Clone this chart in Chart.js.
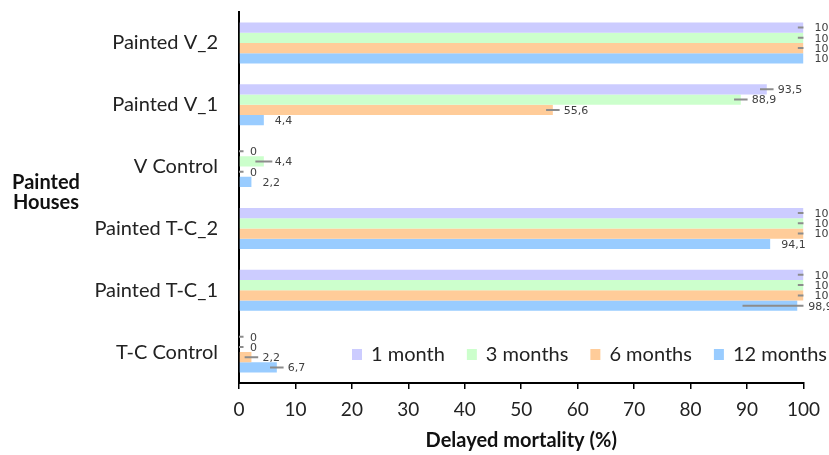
<!DOCTYPE html>
<html>
<head>
<meta charset="utf-8">
<script src="https://cdn.jsdelivr.net/npm/chart.js@4.4.1/dist/chart.umd.min.js"></script>
<style>
html,body{margin:0;padding:0;background:#fff;}
#wrap{width:829px;height:455px;position:relative;}
</style>
</head>
<body>
<div id="wrap"><canvas id="c" width="829" height="455"></canvas></div>
<script>
// ---- data ----
const categories = ["Painted V_2", "Painted V_1", "V Control", "Painted T-C_2", "Painted T-C_1", "T-C Control"];
const seriesNames = ["1 month", "3 months", "6 months", "12 months"];
const month1  = [100, 93.5, 0,   100, 100, 0];
const month3  = [100, 88.9, 4.4, 100, 100, 0];
const month6  = [100, 55.6, 0,   100, 100, 2.2];
const month12 = [100, 4.4,  2.2, 94.1, 98.9, 6.7];
const err1  = [1, 1.2, 0.8, 1, 1, 0.8];
const err3  = [1, 1.2, 1.5, 1, 1, 0.8];
const err6  = [1, 1.2, 0.8, 1, 1, 1.2];
const err12 = [0, 0,   0,   0, 9.7, 1.2];
const xTicks = [0, 10, 20, 30, 40, 50, 60, 70, 80, 90, 100];
const colors = ["#ccccff", "#ccffcc", "#ffcc99", "#99ccff"];

const values = [month1, month3, month6, month12];
const errors = [err1, err3, err6, err12];

const FONT = "Lato, 'Open Sans', sans-serif";

const overlay = {
  id: 'overlay',
  afterDatasetsDraw(chart) {
    const ctx = chart.ctx;
    const xs = chart.scales.x;
    const area = chart.chartArea;
    // error whiskers
    ctx.save();
    ctx.beginPath();
    ctx.rect(area.left, area.top - 2, area.right - area.left, area.bottom - area.top + 4);
    ctx.clip();
    ctx.strokeStyle = '#8c8c8c';
    ctx.lineWidth = 2;
    chart.data.datasets.forEach((ds, di) => {
      const meta = chart.getDatasetMeta(di);
      meta.data.forEach((el, i) => {
        const e = errors[di][i];
        if (!e) return;
        const v = ds.data[i];
        const x1 = xs.getPixelForValue(v - e);
        const x2 = xs.getPixelForValue(v + e);
        ctx.beginPath();
        ctx.moveTo(x1, el.y);
        ctx.lineTo(x2, el.y);
        ctx.stroke();
      });
    });
    ctx.restore();
    // value labels
    ctx.save();
    ctx.font = "11px 'DejaVu Sans', Verdana, sans-serif";
    ctx.fillStyle = '#404040';
    ctx.textAlign = 'left';
    ctx.textBaseline = 'middle';
    chart.data.datasets.forEach((ds, di) => {
      const meta = chart.getDatasetMeta(di);
      meta.data.forEach((el, i) => {
        const v = ds.data[i];
        const x = xs.getPixelForValue(v) + 11;
        ctx.fillText(String(v).replace('.', ','), x, el.y + 1);
      });
    });
    ctx.restore();
  },
  afterDraw(chart) {
    const ctx = chart.ctx;
    // y-axis group title
    ctx.save();
    ctx.font = "bold 20px " + FONT;
    ctx.fillStyle = '#111';
    ctx.textAlign = 'center';
    ctx.textBaseline = 'middle';
    ctx.fillText('Painted', 46, 183);
    ctx.fillText('Houses', 46, 203);
    ctx.restore();
    // legend inside plot
    ctx.save();
    ctx.font = "20px " + FONT;
    ctx.textBaseline = 'middle';
    ctx.textAlign = 'left';
    let x = 352;
    const y = 355;
    chart.data.datasets.forEach((ds) => {
      ctx.fillStyle = ds.backgroundColor;
      ctx.fillRect(x, y - 6, 10, 11);
      x += 19;
      ctx.fillStyle = '#222';
      ctx.fillText(ds.label, x, y);
      x += ctx.measureText(ds.label).width + 22;
    });
    ctx.restore();
  }
};

new Chart(document.getElementById('c'), {
  type: 'bar',
  data: {
    labels: categories,
    datasets: seriesNames.map((n, i) => ({
      label: n,
      data: values[i],
      backgroundColor: colors[i],
      borderWidth: 0,
      categoryPercentage: 0.664,
      barPercentage: 1.0
    }))
  },
  options: {
    indexAxis: 'y',
    responsive: false,
    animation: false,
    devicePixelRatio: 1,
    layout: { padding: { top: 12, right: 23, left: 0, bottom: 0 } },
    plugins: { legend: { display: false }, tooltip: { enabled: false } },
    scales: {
      x: {
        min: 0, max: 100,
        afterBuildTicks(scale) { scale.ticks = xTicks.map(v => ({ value: v })); },
        afterFit(scale) { scale.height = 72; },
        ticks: { font: { family: FONT, size: 19 }, color: '#222', padding: 9 },
        grid: { display: true, drawOnChartArea: false, drawTicks: true, tickLength: 6, color: '#000', lineWidth: 1.5 },
        border: { display: true, color: '#000', width: 2 },
        title: { display: true, text: 'Delayed mortality (%)', font: { family: FONT, size: 20, weight: 'bold' }, color: '#111', padding: { top: 0, bottom: 2 } }
      },
      y: {
        afterFit(scale) { scale.width = 239; },
        ticks: { font: { family: FONT, size: 20 }, color: '#222', padding: 0 },
        grid: { display: false, drawTicks: true, tickLength: 21 },
        border: { display: true, color: '#000', width: 2 }
      }
    }
  },
  plugins: [overlay]
});
</script>
</body>
</html>
